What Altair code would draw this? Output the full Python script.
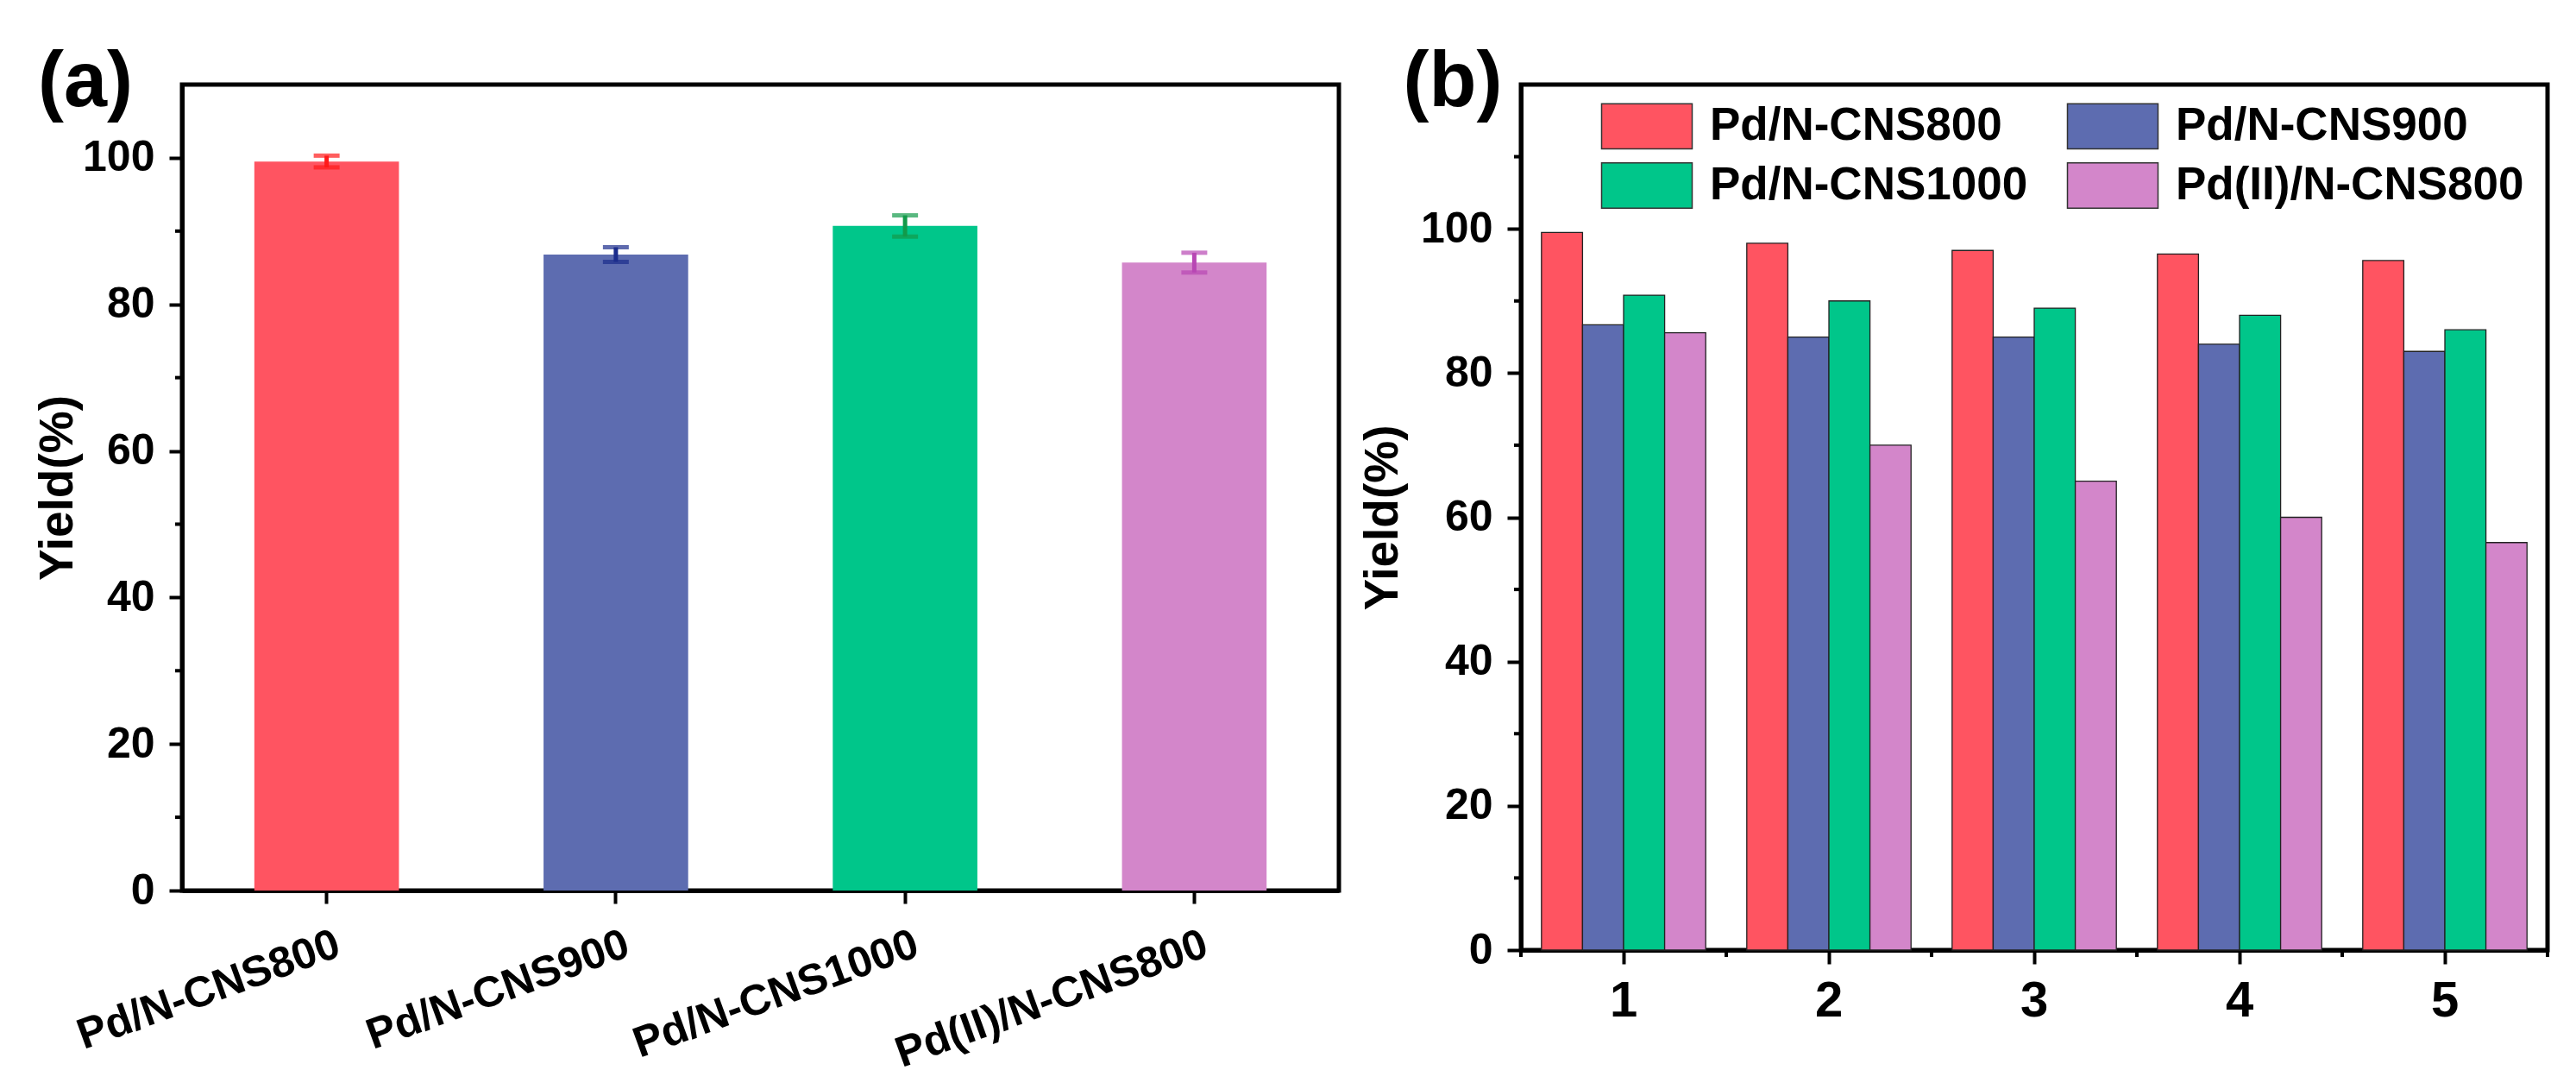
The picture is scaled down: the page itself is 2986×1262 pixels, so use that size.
import altair as alt
import pandas as pd

# ---------------- data ----------------
catalysts = ["Pd/N-CNS800", "Pd/N-CNS900", "Pd/N-CNS1000", "Pd(II)/N-CNS800"]
yield_a = [99.5, 86.8, 90.7, 85.7]
err_a = [0.8, 1.0, 1.45, 1.35]

cycles = ["1", "2", "3", "4", "5"]
yield_800 = [99.5, 98.0, 97.0, 96.5, 95.6]
yield_900 = [86.7, 85.0, 85.0, 84.0, 83.0]
yield_1000 = [90.8, 90.0, 89.0, 88.0, 86.0]
yield_ii = [85.6, 70.0, 65.0, 60.0, 56.5]

y_major = [0, 20, 40, 60, 80, 100]
y_minor_a = [10, 30, 50, 70, 90]
y_minor_b = [10, 30, 50, 70, 90, 110]

# ---------------- styles ----------------
bar_colors = ["#FF5461", "#5D6CB0", "#00C68A", "#D386CA"]
err_colors = ["#FF1A1A", "#1B2C8C", "#129A4A", "#B847B4"]
FONT = "Arial, Liberation Sans, sans-serif"
YT = "Yield(%)"

W_A, H_A = 1341, 934
W_B, H_B = 1190, 1003

# ---------------- panel (a) ----------------
df_a = pd.DataFrame({"catalyst": catalysts, "yield": yield_a, "err": err_a})
df_a["lo"] = df_a["yield"] - df_a["err"]
df_a["hi"] = df_a["yield"] + df_a["err"]

ya_scale = alt.Scale(domain=[0, 110], nice=False, zero=True)


def xa(**kw):
    return alt.X("catalyst:N", sort=catalysts, title=None, **kw)


bars_a = alt.Chart(df_a).mark_bar().encode(
    x=xa(scale=alt.Scale(paddingInner=0.5, paddingOuter=0.25),
         axis=alt.Axis(labelAngle=-20, labelAlign="right", labelBaseline="top",
                       labelFontSize=50, labelPadding=22, labelOffset=5,
                       tickSize=15, labelLimit=1000)),
    y=alt.Y("yield:Q", scale=ya_scale, title=YT,
            axis=alt.Axis(values=y_major, labelPadding=17, titlePadding=0,
                          tickSize=15)),
    color=alt.Color("catalyst:N", sort=catalysts,
                    scale=alt.Scale(domain=catalysts, range=bar_colors), legend=None),
)

ecol = alt.Color("catalyst:N", sort=catalysts,
                 scale=alt.Scale(domain=catalysts, range=err_colors), legend=None)
err_rule = alt.Chart(df_a).mark_rule(strokeWidth=5).encode(
    x=xa(), y=alt.Y("lo:Q", scale=ya_scale, title=YT), y2="hi:Q", color=ecol)
cap_lo = alt.Chart(df_a).mark_tick(thickness=5, size=30).encode(
    x=xa(), y=alt.Y("lo:Q", scale=ya_scale, title=YT), color=ecol)
cap_hi = alt.Chart(df_a).mark_tick(thickness=5, size=30).encode(
    x=xa(), y=alt.Y("hi:Q", scale=ya_scale, title=YT), color=ecol)

minor_a = alt.Chart(pd.DataFrame({"yield": y_minor_a})).mark_rule(
    color="black", strokeWidth=4).encode(
    y=alt.Y("yield:Q", scale=ya_scale, title=YT), x=alt.value(-8), x2=alt.value(0))

lab_a = alt.Chart(pd.DataFrame({"t": ["(a)"]})).mark_text(
    font=FONT, fontSize=90, fontWeight="bold", align="center", baseline="middle",
    color="black").encode(text="t:N", x=alt.value(-112), y=alt.value(-2))

panel_a = alt.layer(bars_a, err_rule, cap_lo, cap_hi, minor_a, lab_a).resolve_scale(
    color="independent").properties(width=W_A, height=H_A)

# ---------------- panel (b) ----------------
rows = []
for name, vals in zip(catalysts, [yield_800, yield_900, yield_1000, yield_ii]):
    for c, v in zip(cycles, vals):
        rows.append({"cycle": c, "series": name, "yield": v})
df_b = pd.DataFrame(rows)

yb_scale = alt.Scale(domain=[0, 120], nice=False, zero=True)

bars_b = alt.Chart(df_b).mark_bar(stroke="#222222", strokeWidth=1.3).encode(
    x=alt.X("cycle:N", sort=cycles, title=None,
            scale=alt.Scale(paddingInner=0, paddingOuter=0),
            axis=alt.Axis(labelAngle=0, labelFontSize=58, labelPadding=14,
                          tickSize=16)),
    xOffset=alt.XOffset("series:N", sort=catalysts,
                        scale=alt.Scale(paddingInner=0, paddingOuter=0.5)),
    y=alt.Y("yield:Q", scale=yb_scale, title=YT,
            axis=alt.Axis(values=y_major, labelPadding=17, titlePadding=15,
                          tickSize=16)),
    color=alt.Color("series:N", sort=catalysts,
                    scale=alt.Scale(domain=catalysts, range=bar_colors),
                    legend=alt.Legend(
                        title=None, orient="none", legendX=119, legendY=21,
                        columns=2, direction="horizontal",
                        symbolType="M-2,-1H2V1H-2Z", symbolSize=2756,
                        symbolStrokeColor="#333333", symbolStrokeWidth=1.5,
                        symbolOpacity=1, labelFont=FONT, labelFontSize=53,
                        labelFontWeight="bold", labelColor="black",
                        labelOffset=46, labelLimit=1000, columnPadding=42,
                        rowPadding=9, padding=0)),
)

minor_by = alt.Chart(pd.DataFrame({"yield": y_minor_b})).mark_rule(
    color="black", strokeWidth=4).encode(
    y=alt.Y("yield:Q", scale=yb_scale, title=YT), x=alt.value(-8), x2=alt.value(0))

minor_bx = alt.Chart(pd.DataFrame({"cycle": cycles})).mark_rule(
    color="black", strokeWidth=4).encode(
    x=alt.X("cycle:N", sort=cycles, bandPosition=0, title=None),
    y=alt.value(H_B), y2=alt.value(H_B + 8))
minor_bx_end = alt.Chart(pd.DataFrame({"cycle": cycles[-1:]})).mark_rule(
    color="black", strokeWidth=4).encode(
    x=alt.X("cycle:N", sort=cycles, bandPosition=1, title=None),
    y=alt.value(H_B), y2=alt.value(H_B + 8))

lab_b = alt.Chart(pd.DataFrame({"t": ["(b)"]})).mark_text(
    font=FONT, fontSize=90, fontWeight="bold", align="center", baseline="middle",
    color="black").encode(text="t:N", x=alt.value(-79), y=alt.value(-2))

panel_b = alt.layer(bars_b, minor_by, minor_bx, minor_bx_end, lab_b).properties(
    width=W_B, height=H_B)

chart = alt.hconcat(panel_a, panel_b, spacing=211, bounds="flush").resolve_scale(
    color="independent").properties(
    padding={"left": 29, "top": 40, "right": 5, "bottom": 5}
).configure_view(
    stroke="black", strokeWidth=5
).configure_axis(
    domainColor="black", domainWidth=5, tickColor="black", tickWidth=4,
    labelFont=FONT, labelFontWeight="bold", labelColor="black", labelFontSize=50,
    titleFont=FONT, titleFontWeight="bold", titleColor="black", titleFontSize=55,
    grid=False, zindex=1
)

chart.save("out.html", embed_options={"renderer": "svg", "actions": False})
